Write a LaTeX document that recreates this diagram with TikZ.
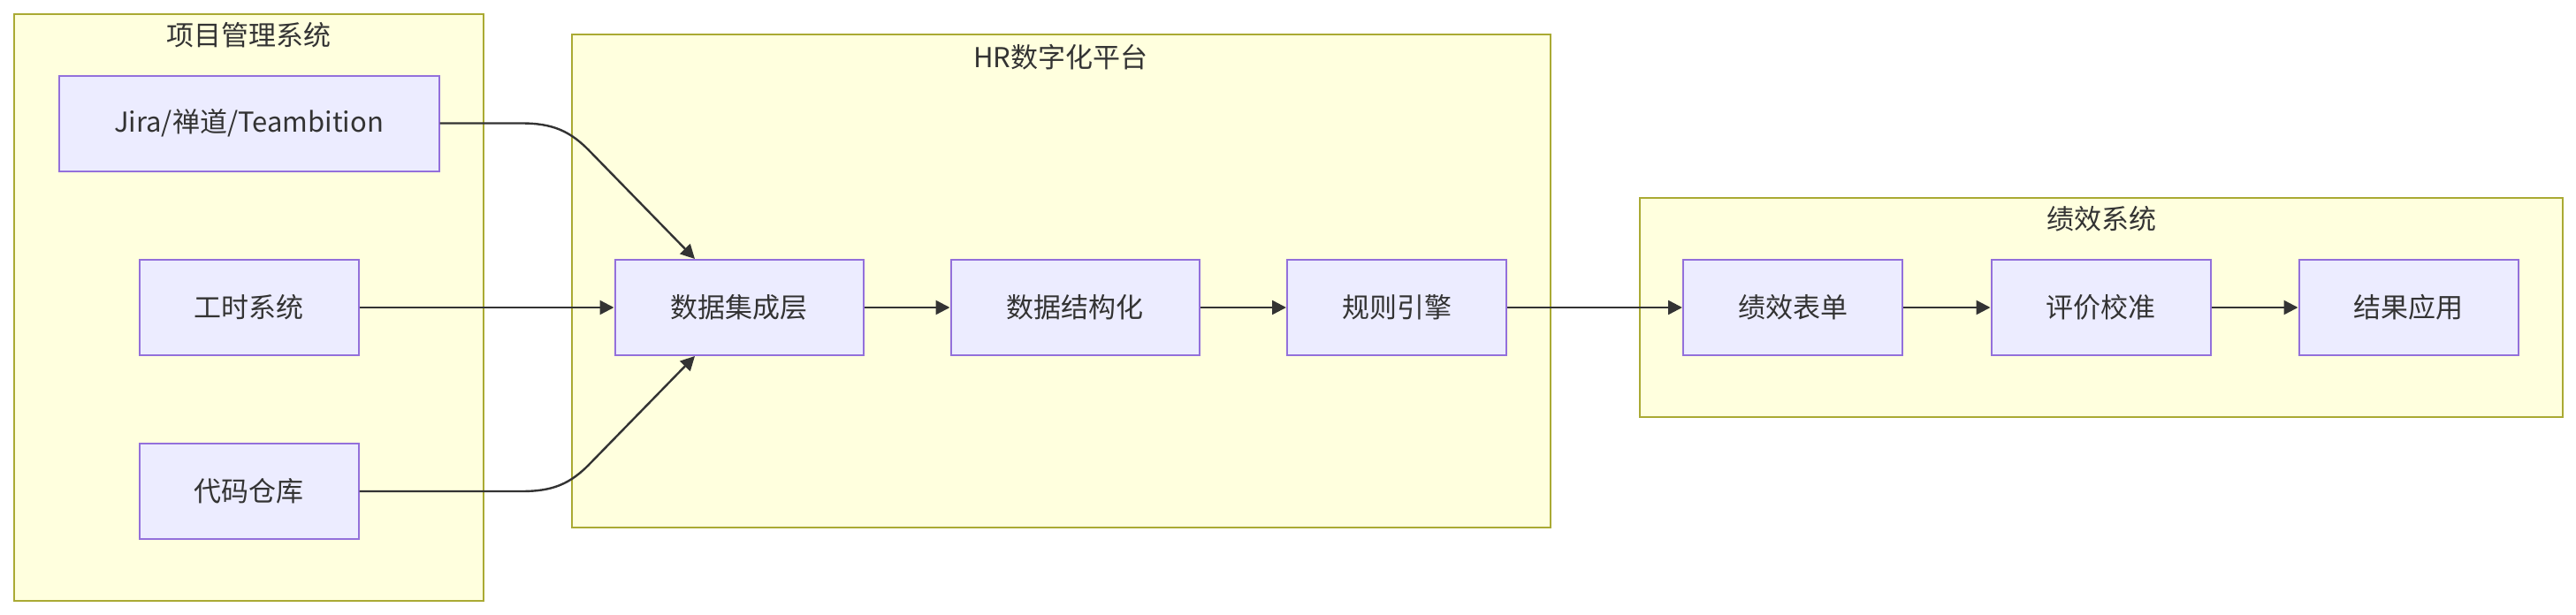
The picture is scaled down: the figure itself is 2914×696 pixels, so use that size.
\documentclass[tikz,border=0pt]{standalone}
\usepackage{fontspec}
\newfontfamily\cjk{Noto Sans CJK SC}
\usetikzlibrary{arrows.meta}
\definecolor{clfill}{HTML}{FFFFDE}
\definecolor{cldraw}{HTML}{AAAA33}
\definecolor{ndfill}{HTML}{ECECFF}
\definecolor{nddraw}{HTML}{9370DB}
\definecolor{txt}{HTML}{333333}
\begin{document}
\begin{tikzpicture}[x=0.5pt,y=-0.5pt,
  cluster/.style={draw=cldraw, fill=clfill, line width=1pt},
  box/.style={draw=nddraw, fill=ndfill, line width=1pt, minimum height=54pt,
    inner sep=0pt, font=\cjk\fontsize{15.5}{18}\selectfont, text=txt},
  ttl/.style={inner sep=0pt, font=\cjk\fontsize{15.5}{18}\selectfont, text=txt},
  edge/.style={draw=txt, line width=1.2pt, -{Triangle[length=8pt,width=8pt]}}]
\useasboundingbox (0,0) rectangle (2914,696);
% clusters
\draw[cluster] (16,16) rectangle (546.5,680);
\draw[cluster] (647,39) rectangle (1754,597);
\draw[cluster] (1855,223.5) rectangle (2899,472);
\node[ttl] (t1) at (281,40) {项目管理系统};
\node[ttl] (t2) at (1200,65) {HR数字化平台};
\node[ttl] (t3) at (2377,248) {绩效系统};
% nodes
\node[box, minimum width=215pt] (jira) at (281.5,139.5) {Jira/禅道/Teambition};
\node[box, minimum width=124pt] (gs) at (281.5,348) {工时系统};
\node[box, minimum width=124pt] (dm) at (281.5,556) {代码仓库};
\node[box, minimum width=140.5pt] (ji) at (836,348) {数据集成层};
\node[box, minimum width=140.5pt] (jg) at (1216,348) {数据结构化};
\node[box, minimum width=124pt] (gz) at (1580,348) {规则引擎};
\node[box, minimum width=124pt] (bd) at (2028,348) {绩效表单};
\node[box, minimum width=124pt] (jz) at (2376.5,348) {评价校准};
\node[box, minimum width=124pt] (yy) at (2724.5,348) {结果应用};
% edges
\draw[edge] (jira.east) -- (590,139.5) .. controls (625,139.5) and (645,148) .. (668,172) -- ([xshift=-25pt]ji.north);
\draw[edge] (dm.east) -- (590,556) .. controls (625,556) and (645,548) .. (668,524) -- ([xshift=-25pt]ji.south);
\draw[edge] (gs) -- (ji);
\draw[edge] (ji) -- (jg);
\draw[edge] (jg) -- (gz);
\draw[edge] (gz) -- (bd);
\draw[edge] (bd) -- (jz);
\draw[edge] (jz) -- (yy);
\end{tikzpicture}
\end{document}
